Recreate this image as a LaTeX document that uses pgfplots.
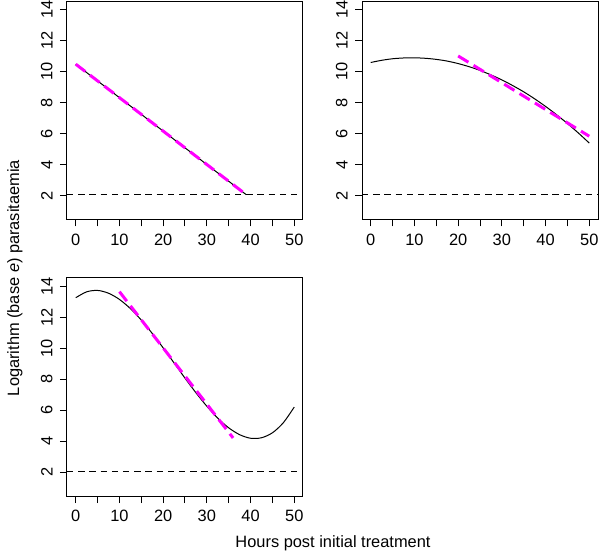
\documentclass[border=0pt]{standalone}
\usepackage{fontspec}
\setmainfont{Liberation Sans}
\usepackage{pgfplots}
\pgfplotsset{compat=1.18}

\definecolor{fitmag}{RGB}{255,0,255}
\newcommand{\lbl}{\fontsize{12.3}{14}\selectfont}

\pgfplotsset{
  panel/.style={
    scale only axis, width=177pt, height=163.5pt,
    xmin=-2, xmax=52, ymin=0.48, ymax=14.52,
    xtick={0,10,...,50}, minor xtick={5,15,...,45},
    ytick={2,4,...,14},
    xtick pos=bottom, ytick pos=left, tick align=outside,
    major tick length=5.25pt, minor tick length=5.25pt,
    tick style={black, line width=0.75pt},
    axis line style={line width=0.75pt},
    ticklabel style={font=\lbl},
    /pgf/number format/assume math mode=true,
    yticklabel style={rotate=90, anchor=south},
    xticklabel shift=2pt, yticklabel shift=2pt,
  },
  model/.style={black, line width=0.75pt, no marks},
  fit/.style={fitmag, line width=2.25pt, no marks, dash pattern=on 9pt off 4.5pt},
  lod/.style={black, line width=0.75pt, no marks, dash pattern=on 4.8pt off 3.6pt},
}

\begin{document}
\begin{tikzpicture}
\useasboundingbox (0,0) rectangle (450pt,415.5pt);

% panel 1
\begin{axis}[panel, at={(50.25pt,250.9pt)}, anchor=south west]
\addplot[lod] coordinates {(-2,2.08) (52,2.08)};
\addplot[model] coordinates {(0,10.48) (39,2.08)};
\addplot[fit] coordinates {(0,10.48) (39,2.08)};
\end{axis}

% panel 2
\begin{axis}[panel, at={(271.5pt,250.9pt)}, anchor=south west]
\addplot[lod] coordinates {(-2,2.08) (52,2.08)};
\addplot[model, smooth] coordinates {
(0,10.59) (2.5,10.73) (5,10.83) (7.5,10.88) (10,10.89) (12.5,10.86)
(15,10.79) (17.5,10.68) (20,10.52) (22.5,10.32) (25,10.08) (27.5,9.79)
(30,9.47) (32.5,9.10) (35,8.70) (37.5,8.25) (40,7.76) (42.5,7.23)
(45,6.66) (47.5,6.05) (50,5.40)};
\addplot[fit] coordinates {(20,11.01) (50,5.84)};
\end{axis}

% panel 3
\begin{axis}[panel, at={(50.25pt,43.5pt)}, anchor=south west]
\addplot[lod] coordinates {(-2,2.08) (52,2.08)};
\addplot[model, smooth] coordinates {
(0,13.25) (2.5,13.63) (5,13.72) (7.5,13.54) (10,13.14) (12.5,12.55)
(15,11.81) (17.5,10.95) (20,10.02) (22.5,9.05) (25,8.07) (27.5,7.13)
(30,6.26) (32.5,5.49) (35,4.87) (37.5,4.43) (40,4.20) (42.5,4.23)
(45,4.55) (47.5,5.20) (50,6.21)};
\addplot[fit] coordinates {(10,13.64) (36,4.22)};
\end{axis}

\node[rotate=90, font=\lbl] at (11.25pt,207pt)
  {Logarithm (base \textit{e}) parasitaemia};
\node[font=\lbl] at (249.75pt,8.25pt)
  {Hours post initial treatment};
\end{tikzpicture}
\end{document}
